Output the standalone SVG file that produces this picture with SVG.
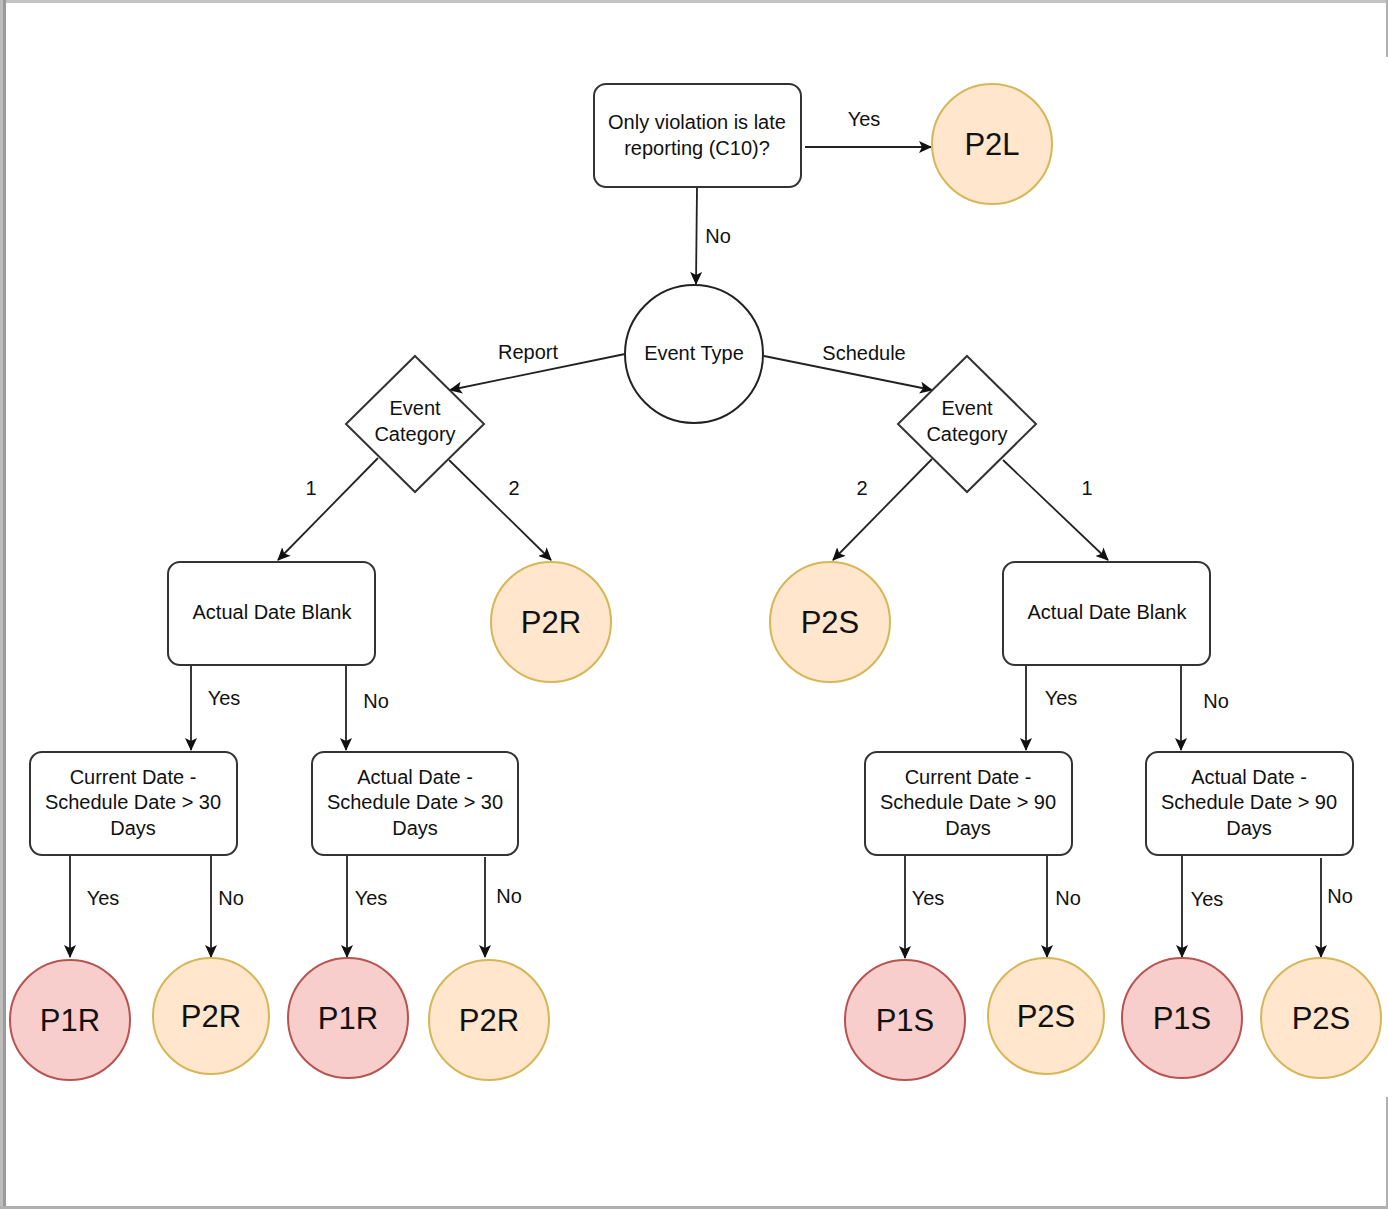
<svg xmlns="http://www.w3.org/2000/svg" width="1388" height="1209" viewBox="0 0 1388 1209">
<style>
text{font-family:"Liberation Sans",Arial,sans-serif;fill:#111;text-anchor:middle}
.t{font-size:20px}
.lbl{font-size:20px}
.big{font-size:31px}
.box{fill:#fff;stroke:#333;stroke-width:2}
.orange{fill:#ffe6cc;stroke:#d6b656;stroke-width:2}
.red{fill:#f8cecc;stroke:#b85450;stroke-width:2}
.wc{fill:#fff;stroke:#222;stroke-width:2}
.e{fill:none;stroke:#222;stroke-width:1.8;marker-end:url(#arr)}
</style>
<defs>
<marker id="arr" markerUnits="userSpaceOnUse" markerWidth="14" markerHeight="12" refX="12" refY="6" orient="auto">
<path d="M0,0 L13,6 L0,12 L3,6 Z" fill="#111"/>
</marker>
</defs>
<rect x="0" y="0" width="1388" height="1209" fill="#fff"/>
<g id="frame">
<rect x="0" y="0" width="1388" height="3" fill="#c4c4c4"/>
<rect x="0" y="0" width="6" height="1209" fill="#bdbdbd"/>
<rect x="3" y="0" width="3" height="1209" fill="#9a9a9a"/>
<rect x="0" y="1206" width="1388" height="3" fill="#b0b0b0"/>
<rect x="1386" y="0" width="2" height="57" fill="#b0b0b0"/>
<rect x="1386" y="1097" width="2" height="112" fill="#b0b0b0"/>
</g>
<g id="connectors">
<path class="e" d="M805,147 L931,147"/>
<path class="e" d="M697,187 L696,284"/>
<path class="e" d="M625,354 L450,390"/>
<path class="e" d="M764,356 L932,390"/>
<path class="e" d="M378,458 L278,560"/>
<path class="e" d="M449,460 L551,560"/>
<path class="e" d="M932,459 L833,560"/>
<path class="e" d="M1003,460 L1108,560"/>
<path class="e" d="M191,665 L191,750"/>
<path class="e" d="M346,665 L346,750"/>
<path class="e" d="M1026,665 L1026,750"/>
<path class="e" d="M1181,665 L1181,750"/>
<path class="e" d="M70,855 L70,957"/>
<path class="e" d="M211,855 L211,957"/>
<path class="e" d="M347,855 L347,957"/>
<path class="e" d="M485,857 L485,957"/>
<path class="e" d="M905,855 L905,958"/>
<path class="e" d="M1047,855 L1047,957"/>
<path class="e" d="M1182,855 L1182,957"/>
<path class="e" d="M1321,858 L1321,957"/>
<text class="lbl" x="864" y="126">Yes</text>
<text class="lbl" x="718" y="243">No</text>
<text class="lbl" x="528" y="359">Report</text>
<text class="lbl" x="864" y="360">Schedule</text>
<text class="lbl" x="311" y="495">1</text>
<text class="lbl" x="514" y="495">2</text>
<text class="lbl" x="862" y="495">2</text>
<text class="lbl" x="1087" y="495">1</text>
<text class="lbl" x="224" y="705">Yes</text>
<text class="lbl" x="376" y="708">No</text>
<text class="lbl" x="1061" y="705">Yes</text>
<text class="lbl" x="1216" y="708">No</text>
<text class="lbl" x="103" y="905">Yes</text>
<text class="lbl" x="231" y="905">No</text>
<text class="lbl" x="371" y="905">Yes</text>
<text class="lbl" x="509" y="903">No</text>
<text class="lbl" x="928" y="905">Yes</text>
<text class="lbl" x="1068" y="905">No</text>
<text class="lbl" x="1207" y="906">Yes</text>
<text class="lbl" x="1340" y="903">No</text>
</g>
<g id="q-late">
<rect class="box" x="594" y="84" width="207" height="103" rx="12"/>
<text class="t" x="697" y="129">Only violation is late</text>
<text class="t" x="697" y="155">reporting (C10)?</text>
</g>
<g id="p2l">
<circle class="orange" cx="992" cy="144" r="60"/>
<text class="big" x="992" y="155">P2L</text>
</g>
<g id="event-type">
<circle class="wc" cx="694" cy="354" r="69"/>
<text class="t" x="694" y="360">Event Type</text>
</g>
<g id="cat-report">
<path class="box" d="M415,356 L484,424 L415,492 L346,424 Z"/>
<text class="t" x="415" y="415">Event</text>
<text class="t" x="415" y="441">Category</text>
</g>
<g id="cat-schedule">
<path class="box" d="M967,356 L1036,424 L967,492 L898,424 Z"/>
<text class="t" x="967" y="415">Event</text>
<text class="t" x="967" y="441">Category</text>
</g>
<g id="blank-report">
<rect class="box" x="168" y="562" width="207" height="103" rx="12"/>
<text class="t" x="272" y="619">Actual Date Blank</text>
</g>
<g id="p2r-top">
<circle class="orange" cx="551" cy="622" r="60"/>
<text class="big" x="551" y="633">P2R</text>
</g>
<g id="p2s-top">
<circle class="orange" cx="830" cy="622" r="60"/>
<text class="big" x="830" y="633">P2S</text>
</g>
<g id="blank-schedule">
<rect class="box" x="1003" y="562" width="207" height="103" rx="12"/>
<text class="t" x="1107" y="619">Actual Date Blank</text>
</g>
<g id="cur30">
<rect class="box" x="30" y="752" width="207" height="103" rx="12"/>
<text class="t" x="133" y="784">Current Date -</text>
<text class="t" x="133" y="809">Schedule Date &gt; 30</text>
<text class="t" x="133" y="835">Days</text>
</g>
<g id="act30">
<rect class="box" x="312" y="752" width="206" height="103" rx="12"/>
<text class="t" x="415" y="784">Actual Date -</text>
<text class="t" x="415" y="809">Schedule Date &gt; 30</text>
<text class="t" x="415" y="835">Days</text>
</g>
<g id="cur90">
<rect class="box" x="865" y="752" width="207" height="103" rx="12"/>
<text class="t" x="968" y="784">Current Date -</text>
<text class="t" x="968" y="809">Schedule Date &gt; 90</text>
<text class="t" x="968" y="835">Days</text>
</g>
<g id="act90">
<rect class="box" x="1146" y="752" width="207" height="103" rx="12"/>
<text class="t" x="1249" y="784">Actual Date -</text>
<text class="t" x="1249" y="809">Schedule Date &gt; 90</text>
<text class="t" x="1249" y="835">Days</text>
</g>
<g id="leaf1"><circle class="red" cx="70" cy="1020" r="60"/><text class="big" x="70" y="1031">P1R</text></g>
<g id="leaf2"><circle class="orange" cx="211" cy="1016" r="58"/><text class="big" x="211" y="1027">P2R</text></g>
<g id="leaf3"><circle class="red" cx="348" cy="1018" r="60"/><text class="big" x="348" y="1029">P1R</text></g>
<g id="leaf4"><circle class="orange" cx="489" cy="1020" r="60"/><text class="big" x="489" y="1031">P2R</text></g>
<g id="leaf5"><circle class="red" cx="905" cy="1020" r="60"/><text class="big" x="905" y="1031">P1S</text></g>
<g id="leaf6"><circle class="orange" cx="1046" cy="1016" r="58"/><text class="big" x="1046" y="1027">P2S</text></g>
<g id="leaf7"><circle class="red" cx="1182" cy="1018" r="60"/><text class="big" x="1182" y="1029">P1S</text></g>
<g id="leaf8"><circle class="orange" cx="1321" cy="1018" r="60"/><text class="big" x="1321" y="1029">P2S</text></g>
</svg>
